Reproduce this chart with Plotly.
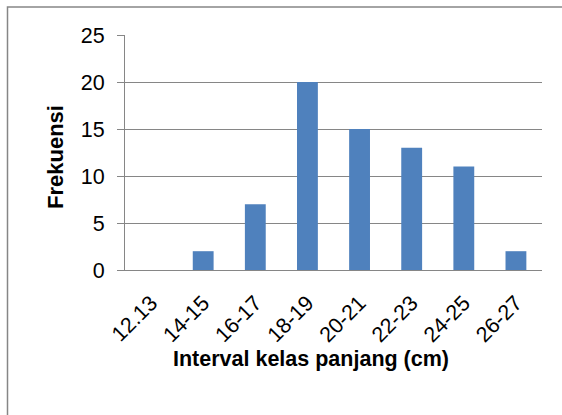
import plotly.graph_objects as go

categories = ["12.13", "14-15", "16-17", "18-19", "20-21", "22-23", "24-25", "26-27"]
frekuensi = [0, 2, 7, 20, 15, 13, 11, 2]
y_ticks = [0, 5, 10, 15, 20, 25]

x_title = "Interval kelas panjang (cm)"
y_title = "Frekuensi"

GRID = "#868686"
FONT = "Liberation Sans, Arial, sans-serif"

W, H = 562, 415
L, R, T, B = 125, 20, 35, 145
pw, ph = W - L - R, H - T - B

def px_x(p):
    return (p - L) / pw

def px_y(p):
    return (H - B - p) / ph

fig = go.Figure()
fig.add_trace(go.Bar(
    x=categories, y=frekuensi,
    marker=dict(color="#4F81BD", line=dict(width=0)),
))

fig.update_layout(
    width=W, height=H,
    margin=dict(l=L, r=R, t=T, b=B),
    paper_bgcolor="white", plot_bgcolor="white",
    bargap=0.6,
    showlegend=False,
    font=dict(family=FONT, color="black"),
    xaxis=dict(
        type="category",
        tickangle=-45,
        tickfont=dict(size=21.5, family=FONT, color="black"),
        showgrid=False, zeroline=False,
        showline=True, linecolor=GRID, linewidth=1,
        ticks="", ticklabelstandoff=11,
    ),
    yaxis=dict(
        range=[0, 25],
        tickvals=y_ticks,
        tickfont=dict(size=21.5, family=FONT, color="black"),
        showgrid=True, gridcolor=GRID, gridwidth=1,
        zeroline=False,
        showline=True, linecolor=GRID, linewidth=1,
        ticks="outside", ticklen=7, tickcolor=GRID, tickwidth=1,
        ticklabelstandoff=8,
    ),
    annotations=[
        dict(text=x_title, xref="paper", yref="paper",
             x=px_x(311), y=px_y(359), xanchor="center", yanchor="middle",
             showarrow=False, font=dict(size=21.5, family=FONT, color="black", weight="bold")),
        dict(text=y_title, xref="paper", yref="paper",
             x=px_x(55), y=px_y(157), xanchor="center", yanchor="middle",
             textangle=-90,
             showarrow=False, font=dict(size=22, family=FONT, color="black", weight="bold")),
    ],
    shapes=[
        dict(type="rect", xref="paper", yref="paper",
             x0=px_x(7.5), x1=px_x(575), y0=px_y(430), y1=px_y(7),
             line=dict(color=GRID, width=1.5), fillcolor="rgba(0,0,0,0)", layer="below"),
    ],
)

fig.write_html(
    "out.html",
    config={"displayModeBar": False},
    post_script="document.body.style.margin='0';document.body.style.overflow='hidden';",
)
